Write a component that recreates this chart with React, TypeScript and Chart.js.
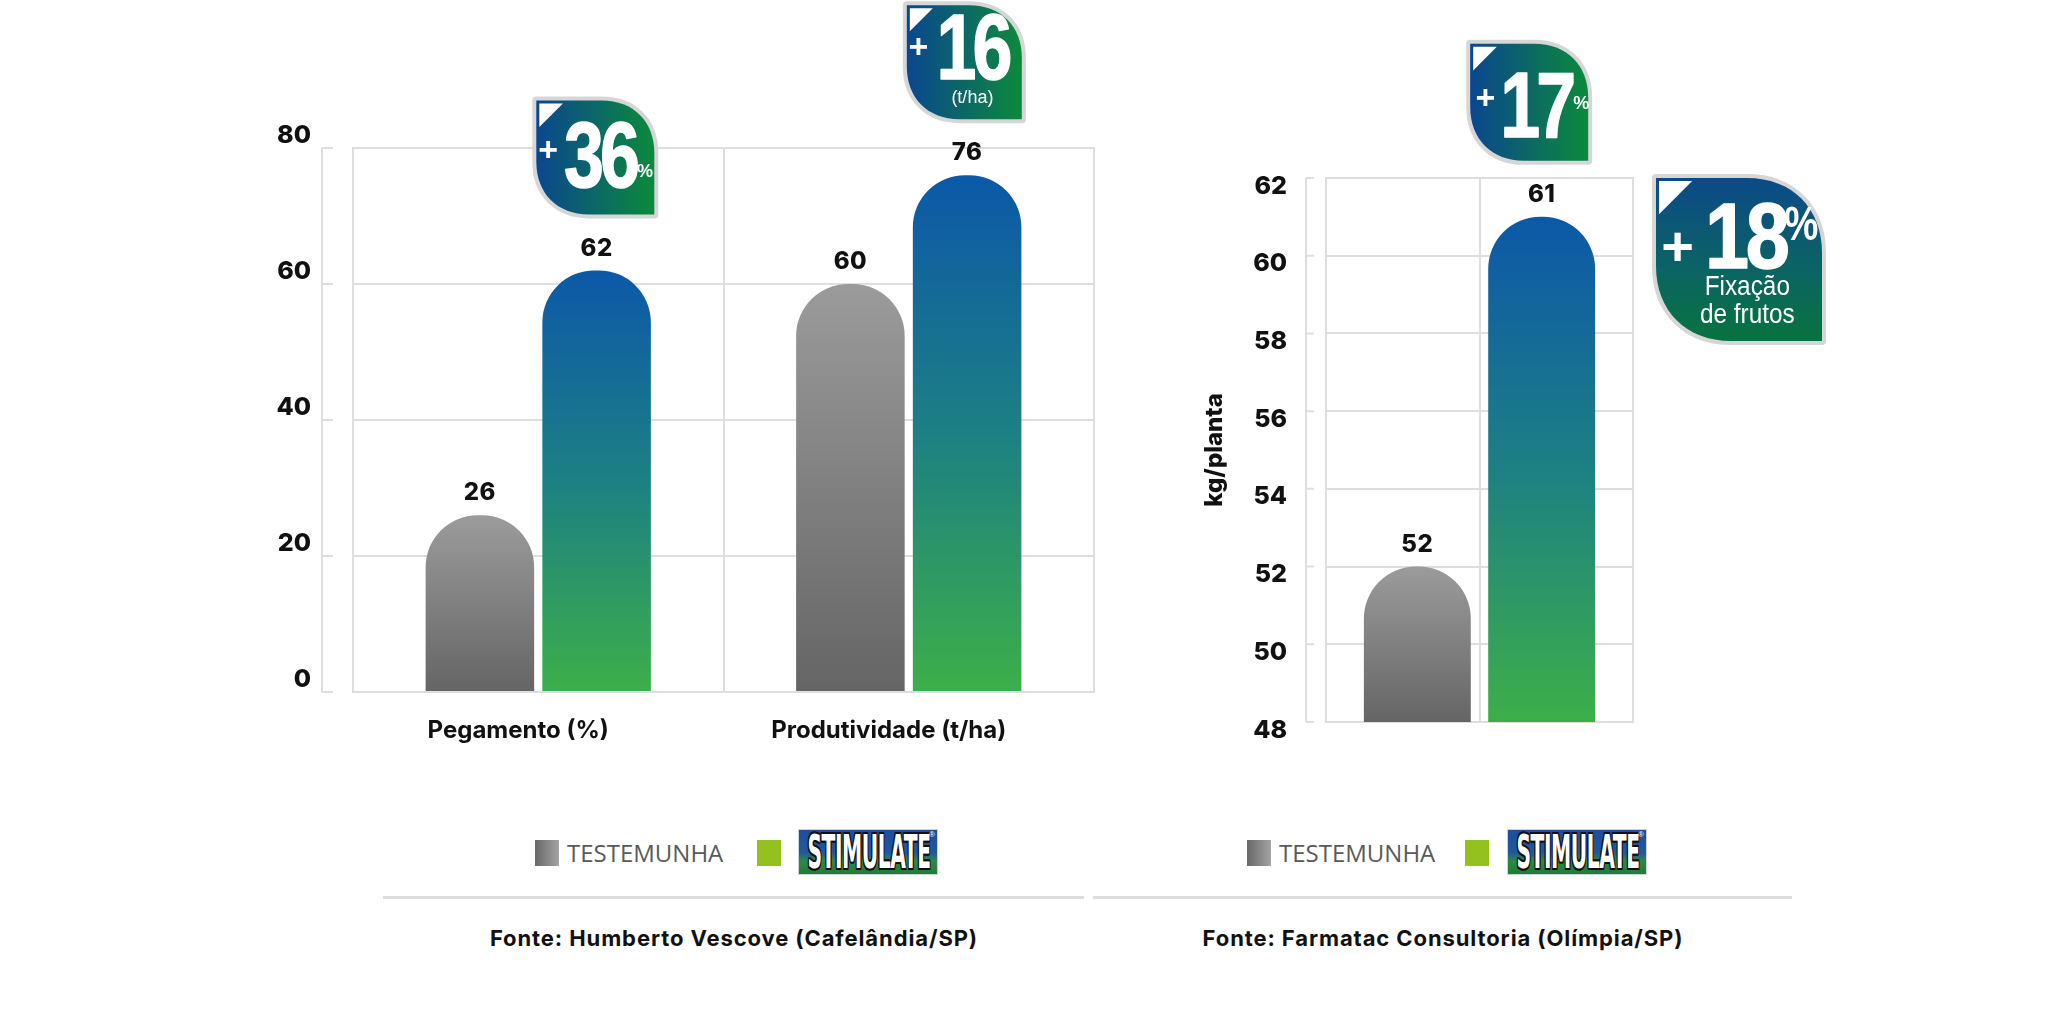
import React, { useEffect, useRef } from "react";
import { Chart, registerables } from "chart.js";
Chart.register(...registerables);

// ---------- data ----------
const seriesNames = ["TESTEMUNHA", "STIMULATE"];

const leftCategories = ["Pegamento (%)", "Produtividade (t/ha)"];
const leftTestemunha = [26, 60];
const leftStimulate = [62, 76];
const leftAxis = { min: 0, max: 80, step: 20 };
const leftBadgeValues = ["36", "16"];
const leftBadgeUnits = ["%", ""];
const leftBadgeNotes = ["", "(t/ha)"];

const rightCategories = [""];
const rightTestemunha = [52];
const rightStimulate = [61];
const rightAxis = { min: 48, max: 62, step: 2 };
const rightAxisTitle = "kg/planta";
const rightBadgeValues = ["17"];
const rightBadgeUnits = ["%"];
const rightBadgeNotes = [""];

const fixacaoValue = "18";
const fixacaoUnit = "%";
const fixacaoLines = ["Fixação", "de frutos"];

const sources = [
  "Fonte: Humberto Vescove (Cafelândia/SP)",
  "Fonte: Farmatac Consultoria (Olímpia/SP)",
];

// ---------- styles ----------
const FONT = "Inter, 'Noto Sans', sans-serif";
const LS = "'Liberation Sans', Arial, sans-serif";
const GRID = "#dedede";

function barGradient(stops: [number, string][]) {
  return (ctx: any) => {
    const chart = ctx.chart;
    const area = chart.chartArea;
    if (!area || ctx.type !== "data") return stops[0][1];
    const ys = chart.scales.y;
    const top = ys.getPixelForValue(ctx.raw);
    const bottom = ys.getPixelForValue(ys.min);
    const g = chart.ctx.createLinearGradient(0, top, 0, bottom);
    stops.forEach(([o, c]) => g.addColorStop(o, c));
    return g;
  };
}
const grayFill = barGradient([[0, "#9b9b9b"], [1, "#656565"]]);
const greenFill = barGradient([[0, "#0c58a8"], [0.5, "#1d8083"], [1, "#3daf49"]]);

function leafPath(ctx: CanvasRenderingContext2D, x: number, y: number, w: number, h: number) {
  const r = Math.min(w, h) * 0.46;
  const k = 0.6;
  ctx.beginPath();
  ctx.moveTo(x, y);
  ctx.lineTo(x + w - r, y);
  ctx.bezierCurveTo(x + w - r + r * k, y, x + w, y + r - r * k, x + w, y + r);
  ctx.lineTo(x + w, y + h);
  ctx.lineTo(x + r, y + h);
  ctx.bezierCurveTo(x + r - r * k, y + h, x, y + h - r + r * k, x, y + h - r);
  ctx.closePath();
}

function badgeBase(ctx: CanvasRenderingContext2D, x: number, y: number, w: number, h: number, vertical: boolean) {
  leafPath(ctx, x, y, w, h);
  ctx.lineWidth = 8;
  ctx.lineJoin = "round";
  ctx.strokeStyle = "#d6d6d6";
  ctx.stroke();
  let g: CanvasGradient;
  if (vertical) {
    g = ctx.createLinearGradient(0, y, 0, y + h);
    g.addColorStop(0, "#0b4a88");
    g.addColorStop(0.55, "#0b6364");
    g.addColorStop(1, "#07733f");
  } else {
    g = ctx.createLinearGradient(x, 0, x + w, 0);
    g.addColorStop(0, "#0b468f");
    g.addColorStop(1, "#0c8a3b");
  }
  ctx.fillStyle = g;
  ctx.fill();
  const t = w * 0.2;
  ctx.beginPath();
  ctx.moveTo(x + 3, y + 3);
  ctx.lineTo(x + 3 + t, y + 3);
  ctx.lineTo(x + 3, y + 3 + t);
  ctx.closePath();
  ctx.fillStyle = "#ffffff";
  ctx.fill();
}

function scaledText(ctx: CanvasRenderingContext2D, text: string, x: number, y: number, font: string, sx: number, align: CanvasTextAlign, ls = "0px", stroke = 0) {
  ctx.save();
  ctx.font = font;
  (ctx as any).letterSpacing = ls;
  ctx.textAlign = align;
  ctx.textBaseline = "alphabetic";
  ctx.translate(x, y);
  ctx.scale(sx, 1);
  ctx.fillStyle = "#ffffff";
  ctx.fillText(text, 0, 0);
  if (stroke > 0) {
    ctx.strokeStyle = "#ffffff";
    ctx.lineWidth = stroke;
    ctx.lineJoin = "round";
    ctx.strokeText(text, 0, 0);
  }
  const w = ctx.measureText(text).width * sx;
  ctx.restore();
  return w;
}

function drawPlus(ctx: CanvasRenderingContext2D, cx: number, cy: number, size: number) {
  ctx.save();
  ctx.fillStyle = "#ffffff";
  ctx.font = `bold ${size}px ${LS}`;
  ctx.textAlign = "center";
  ctx.textBaseline = "middle";
  ctx.fillText("+", cx, cy);
  ctx.restore();
}

function drawSmallBadge(ctx: CanvasRenderingContext2D, x: number, y: number, w: number, h: number, spec: any, main: string, unit: string, note: string) {
  badgeBase(ctx, x, y, w, h, false);
  drawPlus(ctx, x + spec.plusX * w, y + spec.plusY * h, 34);
  const cx = x + spec.mainX * w;
  const mw = scaledText(ctx, main, cx, y + spec.mainY * h, `bold 92px ${LS}`, 0.78, "center", "-5px", 1.5);
  if (unit) scaledText(ctx, unit, cx + mw / 2 + 1, y + spec.unitY * h, `bold 19px ${LS}`, 0.95, "left");
  if (note) scaledText(ctx, note, x + 0.57 * w, y + spec.noteY * h, `18px ${LS}`, 1, "center");
}

function drawBigBadge(ctx: CanvasRenderingContext2D, x: number, y: number, w: number, h: number) {
  badgeBase(ctx, x, y, w, h, true);
  drawPlus(ctx, x + 0.13 * w, y + 0.44 * h, 56);
  const cx = x + 0.54 * w;
  const mw = scaledText(ctx, fixacaoValue, cx, y + 0.55 * h, `bold 92px ${LS}`, 0.86, "center", "-4px", 1.5);
  scaledText(ctx, fixacaoUnit, cx + mw / 2 - 2, y + 0.38 * h, `bold 48px ${LS}`, 0.8, "left");
  scaledText(ctx, fixacaoLines[0], x + 0.55 * w, y + 0.72 * h, `28px ${LS}`, 0.87, "center");
  scaledText(ctx, fixacaoLines[1], x + 0.55 * w, y + 0.89 * h, `28px ${LS}`, 0.87, "center");
}

// ---------- plugins ----------
const decorPlugin = {
  id: "decor",
  beforeDatasetsDraw(chart: any, _a: any, opts: any) {
    const { ctx, chartArea: a, scales } = chart;
    const y = scales.y;
    ctx.save();
    ctx.strokeStyle = GRID;
    ctx.lineWidth = 2;
    ctx.strokeRect(a.left, a.top, a.right - a.left, a.bottom - a.top);
    const ax = a.left - opts.gap;
    ctx.beginPath();
    ctx.moveTo(ax, y.getPixelForValue(y.max));
    ctx.lineTo(ax, y.getPixelForValue(y.min));
    y.ticks.forEach((t: any) => {
      const py = y.getPixelForValue(t.value);
      ctx.moveTo(ax, py);
      ctx.lineTo(ax + opts.len, py);
    });
    ctx.stroke();
    ctx.restore();
  },
};

const valueLabelPlugin = {
  id: "valueLabels",
  afterDatasetsDraw(chart: any, _a: any, opts: any) {
    const { ctx } = chart;
    ctx.save();
    ctx.font = `800 24px ${FONT}`;
    (ctx as any).letterSpacing = "0.5px";
    ctx.fillStyle = "#111111";
    ctx.textAlign = "center";
    ctx.textBaseline = "middle";
    chart.data.datasets.forEach((ds: any, di: number) => {
      chart.getDatasetMeta(di).data.forEach((el: any, i: number) => {
        ctx.fillText(String(ds.data[i]), el.x, el.y - opts.offset);
      });
    });
    ctx.restore();
  },
};

const badgePlugin = {
  id: "badges",
  afterDraw(chart: any, _a: any, opts: any) {
    const { ctx, chartArea } = chart;
    ctx.save();
    (opts.items || []).forEach((b: any, k: number) => {
      const el = chart.getDatasetMeta(b.dataset).data[b.index];
      const bottom = el.y - opts.gap;
      const x = el.x - el.width / 2 + b.dx;
      drawSmallBadge(ctx, x, bottom - b.h, b.w, b.h, b, opts.values[k], opts.units[k], opts.notes[k]);
    });
    if (opts.big) drawBigBadge(ctx, chartArea.right + 23, chartArea.top, 166, 163);
    ctx.restore();
  },
};

const tickFont = { family: FONT, size: 25, weight: 800 as any };

function Logo({ left, top }: { left: number; top: number }) {
  return (
    <div
      style={{
        position: "absolute",
        left,
        top,
        width: 140,
        height: 46,
        boxSizing: "border-box",
        border: "1px solid #c9d3dc",
        background: "linear-gradient(to bottom, #1d4e9b 0%, #2058a0 52%, #2c8a45 70%, #1d7c36 100%)",
        overflow: "hidden",
      }}
    >
      <div
        style={{
          position: "absolute",
          left: -100,
          top: -3,
          width: 340,
          textAlign: "center",
          whiteSpace: "nowrap",
          fontFamily: "'DejaVu Sans', sans-serif",
          fontWeight: 700,
          fontSize: 46,
          lineHeight: "50px",
          color: "#ffffff",
          transform: "scaleX(0.44)",
          transformOrigin: "50% 50%",
          textShadow: "2px 0 0 #111, -2px 0 0 #111, 0 2px 0 #111, 0 -2px 0 #111, 2px 2px 0 #111, -2px -2px 0 #111, 2px -2px 0 #111, -2px 2px 0 #111",
          letterSpacing: "-1px",
        }}
      >
        {seriesNames[1]}
      </div>
      <div style={{ position: "absolute", right: 2, top: 0, fontSize: 8, color: "#fff", fontFamily: "Arial, sans-serif" }}>®</div>
    </div>
  );
}

function LegendRow({ sq, text, green, logo }: { sq: number; text: number; green: number; logo: number }) {
  return (
    <>
      <div style={{ position: "absolute", left: sq, top: 840, width: 24, height: 26, background: "linear-gradient(to right, #686868, #a3a3a3)" }} />
      <div
        style={{
          position: "absolute",
          left: text,
          top: 838,
          fontFamily: "'Open Sans', sans-serif",
          fontSize: 24,
          lineHeight: "30px",
          color: "#5a5a5a",
          whiteSpace: "nowrap",
        }}
      >
        {seriesNames[0]}
      </div>
      <div style={{ position: "absolute", left: green, top: 840, width: 24, height: 26, background: "#95c11f" }} />
      <Logo left={logo} top={829} />
    </>
  );
}

export default function App() {
  const leftRef = useRef<HTMLCanvasElement>(null);
  const rightRef = useRef<HTMLCanvasElement>(null);

  useEffect(() => {
    document.body.style.margin = "0";
    const barCommon = { borderRadius: { topLeft: 52, topRight: 52, bottomLeft: 0, bottomRight: 0 }, borderWidth: 0 };

    const left = new Chart(leftRef.current as HTMLCanvasElement, {
      type: "bar",
      data: {
        labels: leftCategories,
        datasets: [
          { label: seriesNames[0], data: leftTestemunha, backgroundColor: grayFill as any, barPercentage: 0.93, categoryPercentage: 0.63, ...barCommon },
          { label: seriesNames[1], data: leftStimulate, backgroundColor: greenFill as any, barPercentage: 0.93, categoryPercentage: 0.63, ...barCommon },
        ],
      },
      options: {
        responsive: false,
        animation: false,
        layout: { padding: { left: 0, right: 46, top: 148, bottom: 0 } },
        plugins: {
          legend: { display: false },
          tooltip: { enabled: false },
          decor: { gap: 31, len: 11 },
          valueLabels: { offset: 22 },
          badges: {
            gap: 56,
            values: leftBadgeValues,
            units: leftBadgeUnits,
            notes: leftBadgeNotes,
            items: [
              { dataset: 1, index: 0, dx: -6, w: 118, h: 114, plusX: 0.1, plusY: 0.45, mainX: 0.54, mainY: 0.76, unitY: 0.67, noteY: 0 },
              { dataset: 1, index: 1, dx: -6, w: 115, h: 114, plusX: 0.1, plusY: 0.38, mainX: 0.57, mainY: 0.65, unitY: 0.6, noteY: 0.86 },
            ],
          },
        } as any,
        scales: {
          x: {
            grid: { color: GRID, lineWidth: 2, offset: true, drawTicks: false },
            border: { display: false },
            ticks: { color: "#111111", font: { family: FONT, size: 24, weight: 700 as any }, padding: 24, maxRotation: 0, labelOffset: -20 },
            afterFit: (s: any) => { s.height = 88; },
          },
          y: {
            min: leftAxis.min,
            max: leftAxis.max,
            grid: { color: GRID, lineWidth: 2, drawTicks: false },
            border: { display: false },
            ticks: { stepSize: leftAxis.step, padding: 42, labelOffset: -13, color: "#111111", font: tickFont },
            afterFit: (s: any) => { s.width = 353; },
          },
        },
      },
      plugins: [decorPlugin, valueLabelPlugin, badgePlugin],
    });

    const right = new Chart(rightRef.current as HTMLCanvasElement, {
      type: "bar",
      data: {
        labels: rightCategories,
        datasets: [
          { label: seriesNames[0], data: rightTestemunha, backgroundColor: grayFill as any, barPercentage: 0.86, categoryPercentage: 0.81, ...barCommon },
          { label: seriesNames[1], data: rightStimulate, backgroundColor: greenFill as any, barPercentage: 0.86, categoryPercentage: 0.81, ...barCommon },
        ],
      },
      options: {
        responsive: false,
        animation: false,
        layout: { padding: { left: 0, right: 415, top: 178, bottom: 0 } },
        plugins: {
          legend: { display: false },
          tooltip: { enabled: false },
          decor: { gap: 20, len: 8 },
          valueLabels: { offset: 22 },
          badges: {
            gap: 56,
            values: rightBadgeValues,
            units: rightBadgeUnits,
            notes: rightBadgeNotes,
            big: true,
            items: [{ dataset: 1, index: 0, dx: -18, w: 118, h: 117, plusX: 0.13, plusY: 0.48, mainX: 0.56, mainY: 0.8, unitY: 0.56, noteY: 0 }],
          },
        } as any,
        scales: {
          x: {
            grid: { color: GRID, lineWidth: 2, offset: false, drawTicks: false },
            border: { display: false },
            ticks: { display: false },
            afterFit: (s: any) => { s.height = 58; },
          },
          y: {
            min: rightAxis.min,
            max: rightAxis.max,
            grid: { color: GRID, lineWidth: 2, drawTicks: false },
            border: { display: false },
            ticks: { stepSize: rightAxis.step, padding: 39, labelOffset: 8, color: "#111111", font: tickFont },
            title: { display: true, text: rightAxisTitle, color: "#111111", font: { family: FONT, size: 24, weight: 800 as any }, padding: { top: 50, bottom: 0 } },
            afterFit: (s: any) => { s.width = 176; },
          },
        },
      },
      plugins: [decorPlugin, valueLabelPlugin, badgePlugin],
    });

    return () => {
      left.destroy();
      right.destroy();
    };
  }, []);

  const sourceStyle: React.CSSProperties = {
    position: "absolute",
    top: 923,
    width: 800,
    textAlign: "center",
    fontFamily: FONT,
    fontWeight: 700,
    fontSize: 22,
    letterSpacing: "0.9px",
    lineHeight: "30px",
    color: "#111111",
    whiteSpace: "nowrap",
  };

  return (
    <div style={{ position: "absolute", left: 0, top: 0, width: 2048, height: 1010, background: "#ffffff", overflow: "hidden" }}>
      <canvas ref={leftRef} width={1140} height={780} style={{ position: "absolute", left: 0, top: 0, width: 1140, height: 780 }} />
      <canvas ref={rightRef} width={898} height={780} style={{ position: "absolute", left: 1150, top: 0, width: 898, height: 780 }} />
      <LegendRow sq={535} text={567} green={757} logo={798} />
      <LegendRow sq={1247} text={1279} green={1465} logo={1507} />
      <div style={{ position: "absolute", left: 383, top: 896, width: 701, height: 3, background: "#dddddd" }} />
      <div style={{ position: "absolute", left: 1093, top: 896, width: 699, height: 3, background: "#dddddd" }} />
      <div style={{ ...sourceStyle, left: 734 - 400 }}>{sources[0]}</div>
      <div style={{ ...sourceStyle, left: 1443 - 400 }}>{sources[1]}</div>
    </div>
  );
}
